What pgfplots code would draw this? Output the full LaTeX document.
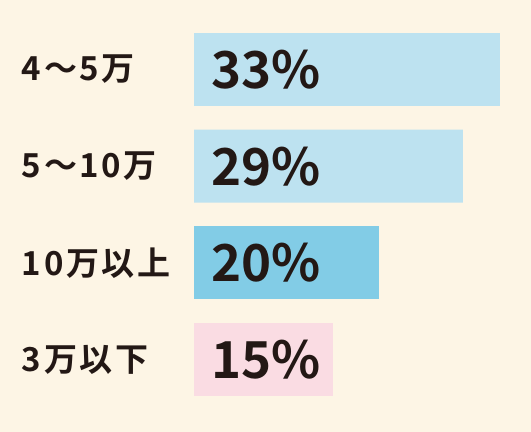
\documentclass[border=0pt]{standalone}
\usepackage{fontspec}
\setmainfont{Noto Sans CJK JP}[BoldFont={Noto Sans CJK JP Bold}]
\newfontfamily\lblfont{Noto Sans CJK JP Bold}[LetterSpace=8]
\usepackage{pgfplots}
\pgfplotsset{compat=1.18}
\definecolor{bg}{HTML}{FDF5E5}
\definecolor{lblue}{HTML}{BDE2F0}
\definecolor{mblue}{HTML}{82CCE6}
\definecolor{lpink}{HTML}{FADCE3}
\definecolor{ink}{HTML}{231815}
\begin{document}
\begin{tikzpicture}
  \fill[bg] (0,0) rectangle (531bp,432bp);
  \useasboundingbox (0,0) rectangle (531bp,432bp);
  \begin{axis}[
    at={(194bp,0)}, anchor=south west,
    scale only axis, width=337bp, height=432bp,
    xbar, bar width=0.755, bar shift=0pt,
    xmin=0, xmax=36.35,
    y dir=reverse, ymin=-0.719, ymax=3.75,
    axis line style={draw=none}, tick style={draw=none},
    xticklabels={}, xtick=\empty,
    ytick={0,1,2,3},
    yticklabels={4～5万, 5～10万, 10万以上, 3万以下},
    yticklabel style={anchor=west, xshift=-168bp, inner sep=0pt,
      font=\lblfont\fontsize{33bp}{37bp}\selectfont, text=ink},
    clip=false,
  ]
    \addplot[fill=lblue, draw=none] coordinates {(33,0) (29,1)};
    \addplot[fill=mblue, draw=none] coordinates {(20,2)};
    \addplot[fill=lpink, draw=none] coordinates {(15,3)};
    \addplot[draw=none, mark=none, xbar=0pt, bar width=0, point meta=explicit symbolic,
      nodes near coords, nodes near coords align={horizontal},
      every node near coord/.append style={anchor=west, inner sep=0pt, text=ink,
        font=\fontsize{51bp}{55bp}\selectfont\bfseries}]
      coordinates {(1.9,0) [33\%] (1.9,1) [29\%] (1.9,2) [20\%] (1.9,3) [15\%]};
  \end{axis}
\end{tikzpicture}
\end{document}
